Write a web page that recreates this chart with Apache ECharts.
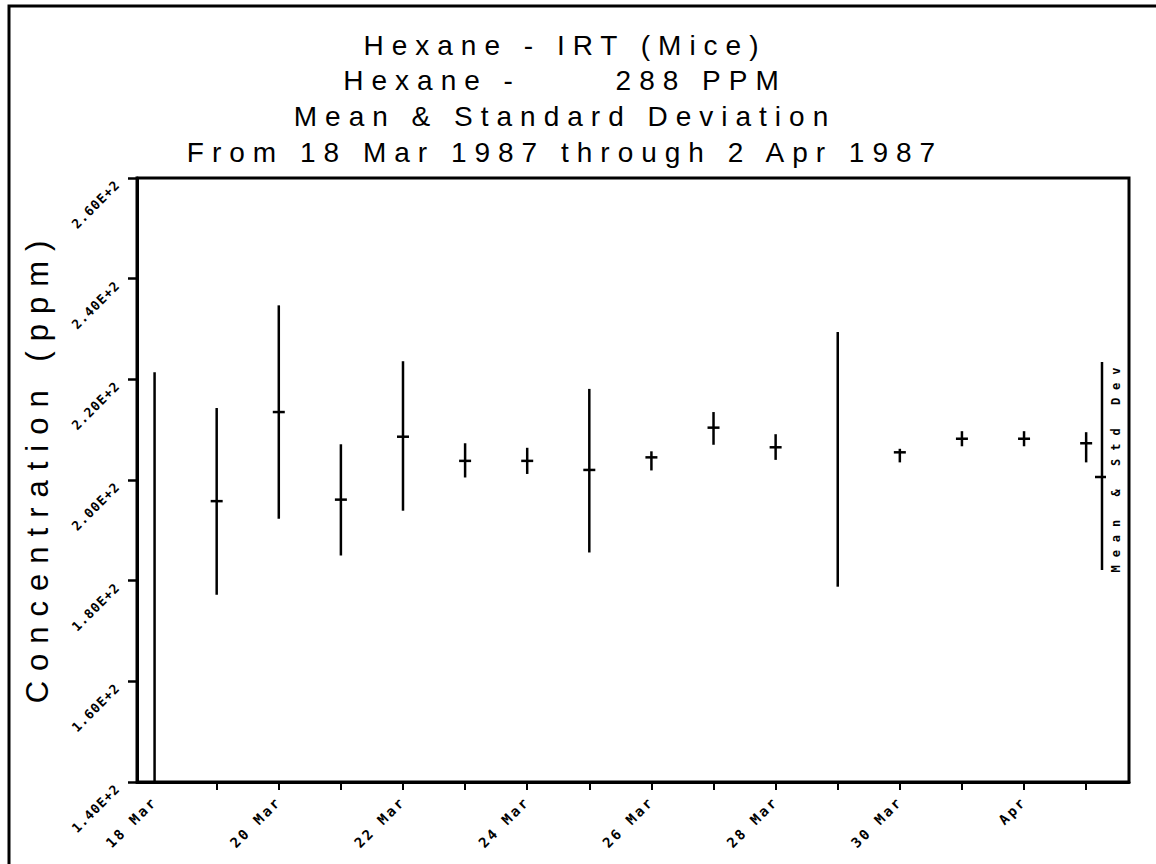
<!DOCTYPE html>
<html>
<head>
<meta charset="utf-8">
<script src="https://cdn.jsdelivr.net/npm/echarts@6/dist/echarts.min.js"></script>
<style>
  html, body { margin: 0; padding: 0; background: #fff; }
  #chart { width: 1156px; height: 864px; }
  #chart text[style*="Tspc"] { letter-spacing: 8px; }
  #chart text[style*="Yspc"] { letter-spacing: 10px; }
  #chart text[style*="Xspc"] { letter-spacing: 2.5px; }
  #chart text[style*="Vspc"] { letter-spacing: 1px; }
  #chart text[style*="Lspc"] { letter-spacing: 8px; }
</style>
</head>
<body>
<div id="chart"></div>
<script>
// ---- data ----
const titleLines = [
  'Hexane - IRT (Mice)',
  'Hexane -      288 PPM',
  'Mean & Standard Deviation',
  'From 18 Mar 1987 through 2 Apr 1987'
];
const yAxisName = 'Concentration (ppm)';
const legendText = 'Mean & Std Dev';

// day index 0 = 18 Mar 1987 ... 15 = 2 Apr 1987
const dates = ['18 Mar','19 Mar','20 Mar','21 Mar','22 Mar','23 Mar','24 Mar','25 Mar',
               '26 Mar','27 Mar','28 Mar','29 Mar','30 Mar','31 Mar','1 Apr','2 Apr'];
const days = [0,1,2,3,4,5,6,7,8,9,10,11,12,13,14,15];
const meanVals = [null, 195.8, 213.5, 196.1, 208.6, 203.8, 203.8, 202.0, 204.5, 210.4, 206.5, null, 205.5, 208.2, 208.2, 207.3];
const lowVals  = [140.0, 177.2, 192.3, 185.0, 193.9, 200.5, 201.2, 185.6, 201.9, 207.0, 204.0, 178.8, 203.5, 206.7, 206.7, 203.5];
const highVals = [221.4, 214.3, 234.7, 207.1, 223.6, 207.3, 206.4, 218.1, 205.7, 213.5, 209.1, 229.4, 206.2, 209.7, 209.7, 209.5];

// axis ticks / labels
const xTickDays = [1,2,3,4,5,6,7,8,9,10,11,12,13,14,15];
const xLabelDays = [0,2,4,6,8,10,12,14];
const xTickLabels = ['18 Mar','20 Mar','22 Mar','24 Mar','26 Mar','28 Mar','30 Mar','Apr'];
const yTickLabels = ['1.40E+2','1.60E+2','1.80E+2','2.00E+2','2.20E+2','2.40E+2','2.60E+2'];

// ---- chart ----
const chart = echarts.init(document.getElementById('chart'), null, { renderer: 'svg' });

const seriesData = days.map((d, i) => [d, lowVals[i], highVals[i]]);

const titleFont = "'Liberation Sans Narrow', 'Liberation Sans', Tspc";
const titleTops = [31, 66, 102, 138];

const option = {
  backgroundColor: '#ffffff',
  animation: false,
  title: titleLines.map((t, i) => ({
    text: t,
    left: 565,
    top: titleTops[i],
    textAlign: 'center',
    padding: 0,
    textStyle: { color: '#000', fontSize: 28, fontWeight: 'normal', fontFamily: titleFont }
  })),
  grid: {
    left: 137, right: 27, top: 178, bottom: 82,
    show: true, borderColor: '#000', borderWidth: 3, backgroundColor: 'transparent'
  },
  xAxis: {
    type: 'value',
    min: -0.283, max: 15.69,
    splitLine: { show: false },
    axisLine: { show: true, onZero: false, lineStyle: { color: '#000', width: 3 } },
    axisTick: { show: true, customValues: xTickDays, length: 8, lineStyle: { color: '#000', width: 2 } },
    axisLabel: {
      customValues: xLabelDays,
      rotate: 45,
      margin: 17,
      color: '#000',
      fontSize: 14,
      fontWeight: 'bold',
      fontFamily: "'DejaVu Sans Mono', Xspc",
      formatter: (v) => xTickLabels[xLabelDays.indexOf(Math.round(v))] || ''
    }
  },
  yAxis: {
    type: 'value',
    min: 140, max: 260, interval: 20,
    name: yAxisName,
    nameLocation: 'middle',
    nameRotate: 90,
    nameGap: 84,
    nameTextStyle: { color: '#000', fontSize: 31, fontFamily: "'Liberation Sans', Yspc", padding: [0, 0, 0, 26] },
    splitLine: { show: false },
    axisLine: { show: true, onZero: false, lineStyle: { color: '#000', width: 3 } },
    axisTick: { show: true, length: 9, lineStyle: { color: '#000', width: 2.5 } },
    axisLabel: {
      rotate: 45,
      margin: 24,
      verticalAlign: 'top',
      color: '#000',
      fontSize: 13,
      fontWeight: 'bold',
      fontFamily: "'DejaVu Sans Mono', Vspc",
      formatter: (v) => yTickLabels[Math.round((v - 140) / 20)] || ''
    }
  },
  graphic: [
    // outer frame (top and left edges visible)
    { type: 'rect', silent: true, shape: { x: 9, y: 6, width: 1170, height: 880 },
      style: { fill: 'none', stroke: '#000', lineWidth: 3 } },
    // legend key: std dev bar with mean tick, and rotated label
    { type: 'line', silent: true, shape: { x1: 1102, y1: 362, x2: 1102, y2: 570 },
      style: { stroke: '#000', lineWidth: 2.5 } },
    { type: 'line', silent: true, shape: { x1: 1095, y1: 477, x2: 1106, y2: 477 },
      style: { stroke: '#000', lineWidth: 2.5 } },
    { type: 'text', silent: true, x: 1116, y: 466, rotation: Math.PI / 2,
      style: { text: legendText, align: 'center', verticalAlign: 'middle', fill: '#000',
               font: "bold 12px 'DejaVu Sans Mono', Lspc" } }
  ],
  series: [{
    type: 'custom',
    clip: true,
    encode: { x: 0, y: [1, 2] },
    data: seriesData,
    renderItem: function (params, api) {
      const x = api.value(0);
      const lo = api.value(1);
      const hi = api.value(2);
      const m = meanVals[params.dataIndex];
      const pLo = api.coord([x, lo]);
      const pHi = api.coord([x, hi]);
      const children = [{
        type: 'line',
        shape: { x1: pLo[0], y1: pLo[1], x2: pHi[0], y2: pHi[1] },
        style: { stroke: '#000', lineWidth: 2.5 }
      }];
      if (m != null) {
        const pm = api.coord([x, m]);
        children.push({
          type: 'line',
          shape: { x1: pm[0] - 6, y1: pm[1], x2: pm[0] + 6, y2: pm[1] },
          style: { stroke: '#000', lineWidth: 2.5 }
        });
      }
      return { type: 'group', children: children };
    }
  }]
};

chart.setOption(option);
</script>
</body>
</html>
